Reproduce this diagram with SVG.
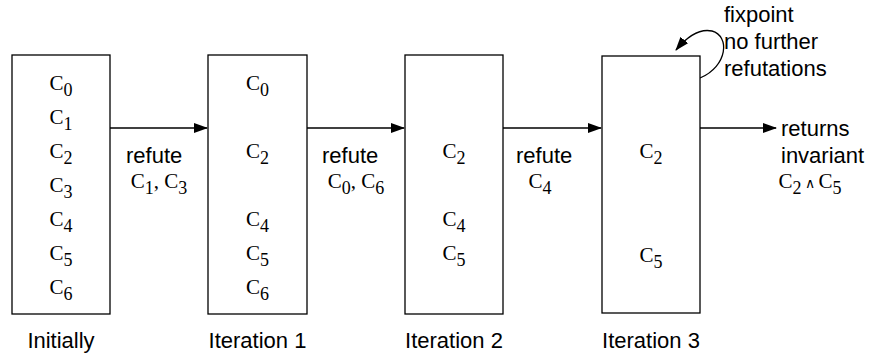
<svg xmlns="http://www.w3.org/2000/svg" width="879" height="358" viewBox="0 0 879 358">
<defs>
<marker id="ah" markerWidth="14" markerHeight="10" refX="13" refY="5" orient="auto" markerUnits="userSpaceOnUse">
<path d="M0,0 L14,5 L0,10 Z" fill="#000"/>
</marker>
<style>
.box{fill:#fff;stroke:#000;stroke-width:1.3}
.c{font-family:"Liberation Serif",serif;font-size:21px;fill:#000;text-anchor:middle}
.s{font-size:18px}
.lbl{font-family:"Liberation Sans",sans-serif;font-size:22px;fill:#000}
.mid{text-anchor:middle}
.edge{fill:none;stroke:#000;stroke-width:1.3;marker-end:url(#ah)}
</style>
</defs>
<rect width="879" height="358" fill="#fff"/>
<g id="connectors">
<line class="edge" x1="110" y1="128" x2="207" y2="128"/>
<line class="edge" x1="307" y1="128" x2="404" y2="128"/>
<line class="edge" x1="503" y1="128" x2="601" y2="128"/>
<line class="edge" x1="700" y1="128" x2="776" y2="128"/>
<path class="edge" d="M700,78 C728,66 730,36 712,31 C698,28 686,38 676,50"/>
</g>
<g id="initially">
<rect class="box" x="12" y="55" width="98" height="259"/>
<text class="c" x="61" y="90">C<tspan class="s" dy="6">0</tspan></text>
<text class="c" x="61" y="124">C<tspan class="s" dy="6">1</tspan></text>
<text class="c" x="61" y="158">C<tspan class="s" dy="6">2</tspan></text>
<text class="c" x="61" y="192">C<tspan class="s" dy="6">3</tspan></text>
<text class="c" x="61" y="226">C<tspan class="s" dy="6">4</tspan></text>
<text class="c" x="61" y="260">C<tspan class="s" dy="6">5</tspan></text>
<text class="c" x="61" y="294">C<tspan class="s" dy="6">6</tspan></text>
<text class="lbl mid" x="61" y="348">Initially</text>
</g>
<g id="iter1">
<rect class="box" x="208" y="55" width="99" height="259"/>
<text class="c" x="257.5" y="90">C<tspan class="s" dy="6">0</tspan></text>
<text class="c" x="257.5" y="158">C<tspan class="s" dy="6">2</tspan></text>
<text class="c" x="257.5" y="226">C<tspan class="s" dy="6">4</tspan></text>
<text class="c" x="257.5" y="260">C<tspan class="s" dy="6">5</tspan></text>
<text class="c" x="257.5" y="294">C<tspan class="s" dy="6">6</tspan></text>
<text class="lbl mid" x="257.5" y="348">Iteration 1</text>
</g>
<g id="iter2">
<rect class="box" x="405" y="55" width="98" height="259"/>
<text class="c" x="454" y="158">C<tspan class="s" dy="6">2</tspan></text>
<text class="c" x="454" y="226">C<tspan class="s" dy="6">4</tspan></text>
<text class="c" x="454" y="260">C<tspan class="s" dy="6">5</tspan></text>
<text class="lbl mid" x="454" y="348">Iteration 2</text>
</g>
<g id="iter3">
<rect class="box" x="602" y="56" width="98" height="257"/>
<text class="c" x="651" y="158">C<tspan class="s" dy="6">2</tspan></text>
<text class="c" x="651" y="262">C<tspan class="s" dy="6">5</tspan></text>
<text class="lbl mid" x="651" y="348">Iteration 3</text>
</g>
<g id="labels">
<text class="lbl" x="126" y="163">refute</text>
<text class="c" x="159" y="188">C<tspan class="s" dy="6">1</tspan><tspan dy="-6">, C</tspan><tspan class="s" dy="6">3</tspan></text>
<text class="lbl" x="322" y="163">refute</text>
<text class="c" x="356" y="188">C<tspan class="s" dy="6">0</tspan><tspan dy="-6">, C</tspan><tspan class="s" dy="6">6</tspan></text>
<text class="lbl" x="516" y="163">refute</text>
<text class="c" x="540" y="188">C<tspan class="s" dy="6">4</tspan></text>
<text class="lbl" x="781" y="136">returns</text>
<text class="lbl" x="781" y="163">invariant</text>
<text class="c" x="810" y="188">C<tspan class="s" dy="6">2</tspan><tspan dy="-6" font-size="14px"> ∧ </tspan>C<tspan class="s" dy="6">5</tspan></text>
<text class="lbl" x="724" y="22">fixpoint</text>
<text class="lbl" x="724" y="49">no further</text>
<text class="lbl" x="724" y="76">refutations</text>
</g>
</svg>
